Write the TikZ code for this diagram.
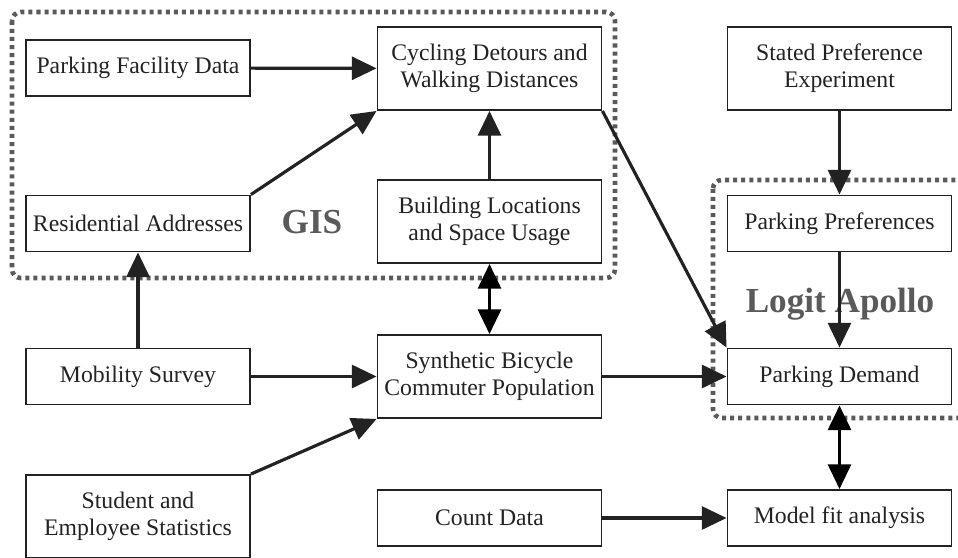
\documentclass[tikz,border=0pt]{standalone}
\usepackage{fontspec}
\setmainfont{Liberation Serif}
\usetikzlibrary{arrows.meta,positioning}

\definecolor{inkdark}{HTML}{222222}
\definecolor{groupgray}{HTML}{5A5A5A}

\begin{document}
\begin{tikzpicture}[
    x=0.02cm, y=-0.02cm,
    block/.style={rectangle, draw=inkdark, line width=1.1pt, text=inkdark, align=center, inner sep=0pt, minimum width=4.48cm, minimum height=1.12cm, font=\fontsize{13.5}{15.5}\selectfont},
    tall/.style={minimum height=1.66cm},
    link/.style={draw=inkdark, line width=1.8pt, -{Triangle[length=14pt,width=13pt]}},
    twoway/.style={draw=black, line width=1.8pt, {Triangle[length=14pt,width=13pt]}-{Triangle[length=14pt,width=13pt]}},
    group/.style={draw=groupgray, line width=2.6pt, dash pattern=on 2.3pt off 2.3pt, rounded corners=5pt},
    grouplabel/.style={text=groupgray, font=\fontsize{20}{23}\selectfont\bfseries}
]
\useasboundingbox (0,0) rectangle (958,558);

% left column
\node[block] (facility) at (138, 68) {Parking Facility Data};
\node[block] (address) at (138, 223.5) {Residential Addresses};
\node[block] (survey) at (138, 376.5) {Mobility Survey};
\node[block, tall] (stats) at (138, 516.5) {Student and\\Employee Statistics};

% middle column
\node[block, tall] (detours) at (489.5, 68.5) {Cycling Detours and\\Walking Distances};
\node[block, tall] (buildings) at (489.5, 221.5) {Building Locations\\and Space Usage};
\node[block, tall] (population) at (489.5, 376.5) {Synthetic Bicycle\\Commuter Population};
\node[block] (counts) at (489.5, 518) {Count Data};

% right column
\node[block, tall] (stated) at (839.5, 68.5) {Stated Preference\\Experiment};
\node[block] (prefs) at (839.5, 223.5) {Parking Preferences};
\node[block] (demand) at (839.5, 376.5) {Parking Demand};
\node[block] (fit) at (839.5, 518) {Model fit analysis};

% groups
\draw[group] (12, 12) rectangle (615, 278);
\node[grouplabel] (gis) at (312, 222) {GIS};
\draw[group] (713, 180) rectangle (966, 418);
\node[grouplabel] (apollo) at (840, 304) {Logit Apollo};

% connectors
\draw[link] (facility) -- (detours);
\draw[link] (address.north east) -- (detours.south west);
\draw[link] (buildings) -- (detours);
\draw[twoway] (buildings) -- (population);
\draw[link] (survey) -- (address);
\draw[link] (survey) -- (population);
\draw[link] (stats.north east) -- (population.south west);
\draw[link] (detours.south east) -- (demand.north west);
\draw[link] (population) -- (demand);
\draw[link] (stated) -- (prefs);
\draw[link] (prefs) -- (demand);
\draw[twoway] (demand) -- (fit);
\draw[link] (counts) -- (fit);

\end{tikzpicture}
\end{document}
